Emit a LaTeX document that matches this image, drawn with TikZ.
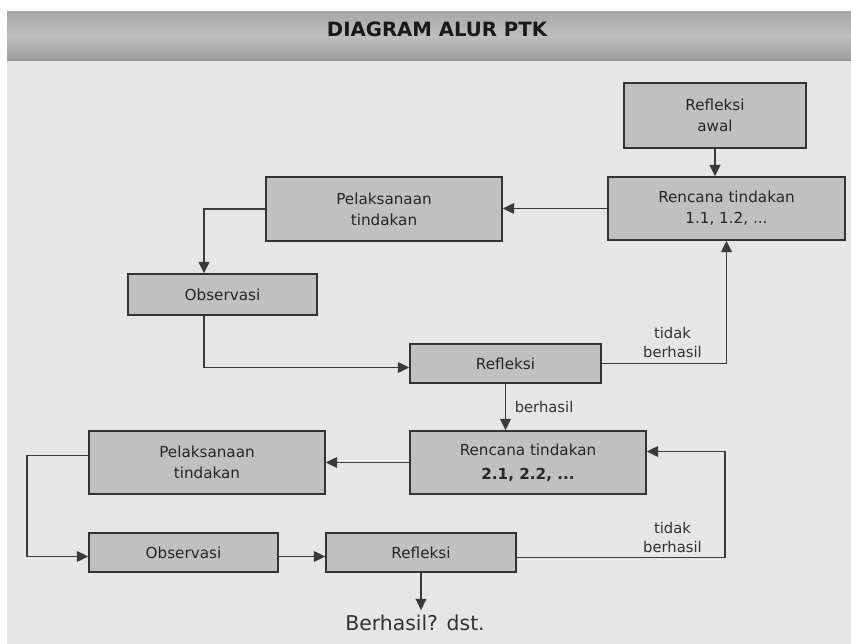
\documentclass[tikz,border=0pt]{standalone}
\usepackage{fontspec}
\setmainfont{DejaVu Sans}
\usetikzlibrary{arrows.meta,calc}
\definecolor{latar}{HTML}{E6E6E6}
\definecolor{kotak}{HTML}{C0C0C0}
\definecolor{garis}{HTML}{3A3A3A}
\definecolor{kepala}{HTML}{A8A8A8}
\definecolor{kepalaterang}{HTML}{BEBEBE}
\begin{document}
\begin{tikzpicture}[x=0.025cm, y=0.025cm,
    box/.style={draw=black!80, line width=1.1pt, fill=kotak, inner sep=0pt, align=center, text=black!85, font=\fontsize{10.8}{15}\selectfont},
    conn/.style={garis, line width=1.2pt, -{Triangle[length=8pt,width=7.5pt]}},
    lbl/.style={font=\fontsize{10.5}{13.5}\selectfont, align=center, text=black!80, inner sep=0pt},
  ]
    \useasboundingbox (0,0) rectangle (851,-644);

    % Latar dan judul
    \fill[latar] (7,-12) rectangle (851,-644);
    \shade[top color=kepala, bottom color=kepala!92!black, middle color=kepalaterang] (7,-12) rectangle (851,-61);
    \node[font=\bfseries\fontsize{14}{16}\selectfont, text=black!90] (judul) at (437,-29) {DIAGRAM ALUR PTK};

    % Siklus 1
    \node[box, minimum width=4.55cm, minimum height=1.625cm] (ref0) at (715,-115.5) {Refleksi\\awal};
    \node[box, minimum width=5.925cm, minimum height=1.575cm] (ren1) at (726.5,-208.5) {Rencana tindakan\\1.1, 1.2, ...};
    \node[box, minimum width=5.9cm, minimum height=1.6cm] (pel1) at (384,-209) {Pelaksanaan\\tindakan};
    \node[box, minimum width=4.725cm, minimum height=1.025cm] (obs1) at (222.5,-294.5) {Observasi};
    \node[box, minimum width=4.775cm, minimum height=0.975cm] (ref1) at (505.5,-363.5) {Refleksi};

    \draw[conn] (ref0.south) -- (ref0.south |- ren1.north);
    \draw[conn] (ren1.west) -- (ren1.west -| pel1.east);
    \draw[conn] (pel1.west) -| ($(obs1.north)+(-18.5,0)$);
    \draw[conn] ($(obs1.south)+(-18.5,0)$) |- ($(ref1.west)+(0,-4)$);
    \draw[conn] (ref1.east) -| (ren1.south);
    \node[lbl, anchor=south east] (tb1) at (702,-358) {tidak\\berhasil};

    % Siklus 2
    \node[box, minimum width=5.9cm, minimum height=1.575cm] (ren2) at (528,-462.5) {Rencana tindakan\\[2pt]\textbf{2.1, 2.2, ...}};
    \node[box, minimum width=5.9cm, minimum height=1.575cm] (pel2) at (207,-462.5) {Pelaksanaan\\tindakan};
    \node[box, minimum width=4.725cm, minimum height=0.975cm] (obs2) at (183.5,-552.5) {Observasi};
    \node[box, minimum width=4.75cm, minimum height=0.975cm] (ref2) at (421,-552.5) {Refleksi};
    \node[font=\fontsize{14.5}{17}\selectfont, text=black!80] (akhir) at (415,-623) {Berhasil? dst.};

    \draw[conn] (ref1.south) -- node[lbl, right=6pt] (lb1) {berhasil} (ref1.south |- ren2.north);
    \draw[conn] (ren2.west) -- (ren2.west -| pel2.east);
    \draw[conn] ($(pel2.west)+(0,7)$) -- ++(-61,0) |- ($(obs2.west)+(0,-4)$);
    \draw[conn] ($(obs2.east)+(0,-4)$) -- ($(ref2.west)+(0,-4)$);
    \draw[conn] ($(ref2.east)+(0,-5)$) -- ++(208,0) |- ($(ren2.east)+(0,11)$);
    \node[lbl, anchor=south east] (tb2) at (702,-553) {tidak\\berhasil};
    \draw[conn] (ref2.south) -- (ref2.south |- akhir.north);
  \end{tikzpicture}
\end{document}
